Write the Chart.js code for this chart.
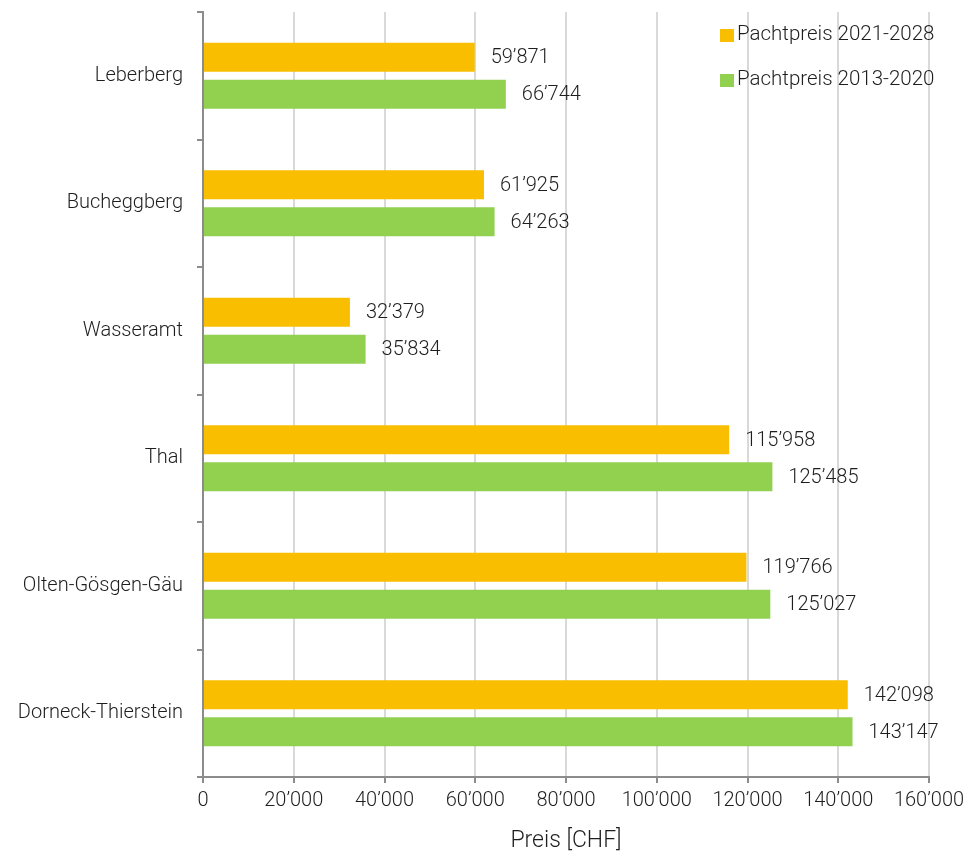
<!DOCTYPE html>
<html>
<head>
<meta charset="utf-8">
<script src="https://cdn.jsdelivr.net/npm/chart.js@4/dist/chart.umd.min.js"></script>
<style>
html,body{margin:0;padding:0;background:#fff;}
#wrap{width:978px;height:859px;position:relative;}
</style>
</head>
<body>
<div id="wrap"><canvas id="c" width="978" height="859"></canvas></div>
<script>
const categories = ['Leberberg','Bucheggberg','Wasseramt','Thal','Olten-Gösgen-Gäu','Dorneck-Thierstein'];
const seriesNames = ['Pachtpreis 2021-2028','Pachtpreis 2013-2020'];
const values2021 = [59871, 61925, 32379, 115958, 119766, 142098];
const values2013 = [66744, 64263, 35834, 125485, 125027, 143147];
const xTicks = [0,20000,40000,60000,80000,100000,120000,140000,160000];

const FONT = "Roboto, 'Liberation Sans', Arial, sans-serif";
const WEIGHT = 300;
const TXT = '#1e1e1e';
const fmt = v => String(v).replace(/\B(?=(\d{3})+(?!\d))/g, '\u2019');

const labelPlugin = {
  id: 'barLabels',
  afterDatasetsDraw(chart){
    const ctx = chart.ctx;
    ctx.save();
    ctx.font = WEIGHT + ' 20px ' + FONT;
    ctx.fillStyle = TXT;
    ctx.textBaseline = 'middle';
    ctx.textAlign = 'left';
    chart.data.datasets.forEach((ds,i)=>{
      chart.getDatasetMeta(i).data.forEach((bar,j)=>{
        ctx.fillText(fmt(ds.data[j]), bar.x + 16, bar.y + 1);
      });
    });
    ctx.restore();
  }
};

const legendPlugin = {
  id: 'customLegend',
  afterDraw(chart){
    const ctx = chart.ctx;
    ctx.save();
    ctx.font = WEIGHT + ' 20.5px ' + FONT;
    ctx.textBaseline = 'middle';
    ctx.textAlign = 'left';
    chart.data.datasets.forEach((ds,i)=>{
      const y = 35 + i*45;
      ctx.fillStyle = ds.backgroundColor;
      ctx.fillRect(720, y-6, 14, 13);
      ctx.fillStyle = TXT;
      ctx.fillText(seriesNames[i], 737, y);
    });
    ctx.restore();
  }
};

new Chart(document.getElementById('c'), {
  type: 'bar',
  data: {
    labels: categories,
    datasets: [
      {label: seriesNames[0], data: values2021, backgroundColor: '#F9BE00', categoryPercentage: 0.58, barPercentage: 0.78},
      {label: seriesNames[1], data: values2013, backgroundColor: '#92D050', categoryPercentage: 0.58, barPercentage: 0.78}
    ]
  },
  options: {
    indexAxis: 'y',
    responsive: false,
    animation: false,
    devicePixelRatio: 1,
    layout: {padding: {top: 12, right: 49, left: 0, bottom: 0}},
    plugins: {legend: {display: false}, tooltip: {enabled: false}},
    scales: {
      x: {
        min: 0, max: 160000,
        afterBuildTicks(scale){ scale.ticks = xTicks.map(v=>({value:v})); },
        afterFit(scale){ scale.height = 82; },
        border: {display: true, color: '#8c8c8c', width: 2},
        grid: {color: '#d9d9d9', lineWidth: 2, drawTicks: true, tickLength: 6, tickColor: '#8c8c8c'},
        ticks: {color: TXT, font: {family: FONT, size: 20, weight: WEIGHT}, padding: 6, callback: v => fmt(v), maxRotation: 0},
        title: {display: true, text: 'Preis [CHF]', color: TXT, font: {family: FONT, size: 23, weight: WEIGHT}, padding: {top: 5}}
      },
      y: {
        offset: true,
        afterFit(scale){ scale.width = 203; scale.paddingTop = 0; scale.paddingBottom = 0; },
        border: {display: true, color: '#8c8c8c', width: 2},
        grid: {offset: true, drawOnChartArea: false, drawTicks: true, tickLength: 6, color: '#8c8c8c', lineWidth: 2},
        ticks: {color: TXT, font: {family: FONT, size: 20, weight: WEIGHT}, padding: 14}
      }
    }
  },
  plugins: [labelPlugin, legendPlugin]
});
</script>
</body>
</html>
